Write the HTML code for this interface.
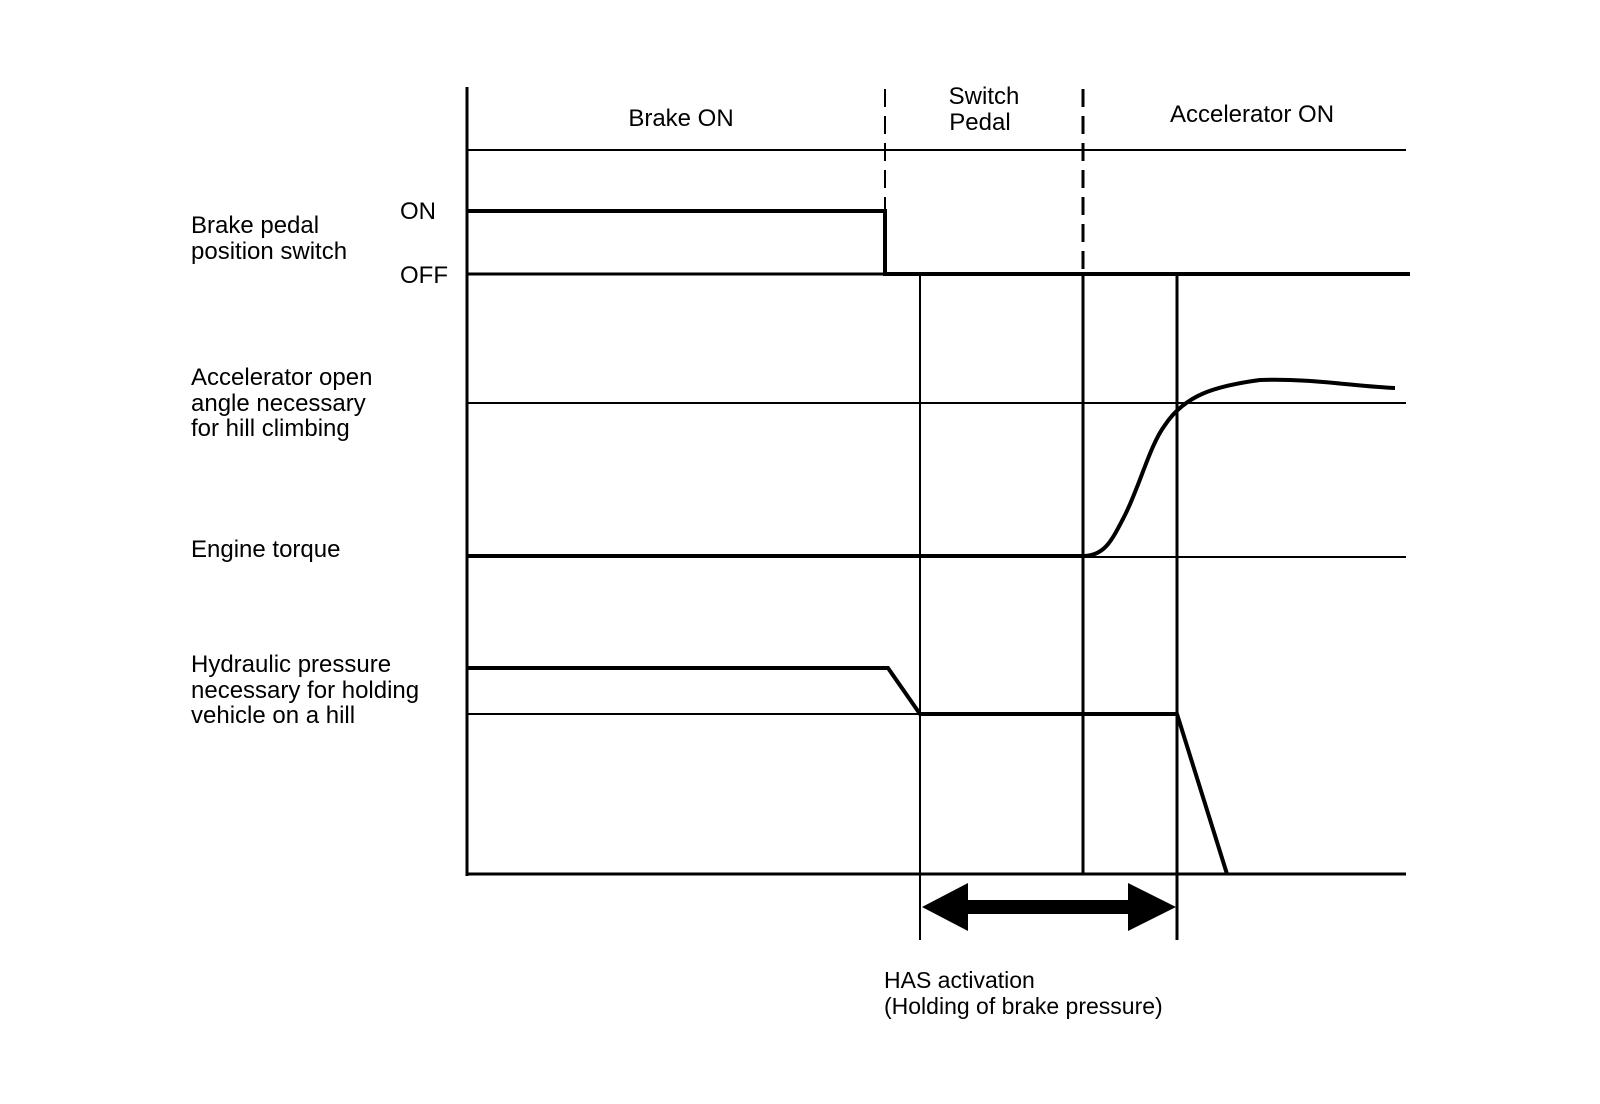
<!DOCTYPE html>
<html><head><meta charset="utf-8"><style>
html,body{margin:0;padding:0;background:#fff;}
svg{display:block;}
text{font-family:"Liberation Sans",Arial,sans-serif;fill:#000;}
</style></head><body>
<svg width="1600" height="1104" viewBox="0 0 1600 1104" xmlns="http://www.w3.org/2000/svg">
<g stroke="#000" fill="none">
<!-- axis -->
<line x1="467" y1="87" x2="467" y2="876" stroke-width="3"/>
<line x1="467" y1="150" x2="1406" y2="150" stroke-width="2"/>
<!-- dashed separators -->
<line x1="885" y1="89" x2="885" y2="274" stroke-width="2" stroke-dasharray="18,9"/>
<line x1="1083" y1="89" x2="1083" y2="274" stroke-width="3" stroke-dasharray="18,9"/>
<!-- brake switch -->
<polyline points="467,211 885,211 885,274 1410,274" stroke-width="4"/>
<line x1="467" y1="274" x2="885" y2="274" stroke-width="3"/>
<!-- verticals -->
<line x1="920" y1="274" x2="920" y2="940" stroke-width="2"/>
<line x1="1083" y1="274" x2="1083" y2="875" stroke-width="3"/>
<line x1="1177" y1="274" x2="1177" y2="940" stroke-width="3"/>
<!-- accel line -->
<line x1="467" y1="403" x2="1406" y2="403" stroke-width="2"/>
<!-- engine torque -->
<line x1="467" y1="557" x2="1406" y2="557" stroke-width="2"/>
<line x1="467" y1="556" x2="1085" y2="556" stroke-width="4"/>
<path d="M1083,556 C1105,556 1112,540 1125,515 C1140,485 1150,445 1165,425 C1185,395 1215,386 1260,380 C1310,378 1360,387 1395,388" stroke-width="4"/>
<!-- hydraulic -->
<line x1="467" y1="714" x2="920" y2="714" stroke-width="2"/>
<polyline points="467,668 888,668 920,714 1177,714 1227,874" stroke-width="4"/>
<!-- bottom -->
<line x1="467" y1="874" x2="1406" y2="874" stroke-width="3"/>
</g>
<!-- double arrow -->
<rect x="966" y="900" width="164" height="14" fill="#000"/>
<polygon points="922,907 968,883 968,931" fill="#000"/>
<polygon points="1176,907 1128,883 1128,931" fill="#000"/>
<g font-size="24">
<text x="681" y="126" text-anchor="middle">Brake ON</text>
<text x="984" y="104" text-anchor="middle">Switch</text>
<text x="980" y="130" text-anchor="middle">Pedal</text>
<text x="1252" y="122" text-anchor="middle">Accelerator ON</text>
<text x="400" y="219">ON</text>
<text x="400" y="283">OFF</text>
<text x="191" y="233">Brake pedal</text>
<text x="191" y="259">position switch</text>
<text x="191" y="385">Accelerator open</text>
<text x="191" y="411">angle necessary</text>
<text x="191" y="436">for hill climbing</text>
<text x="191" y="557">Engine torque</text>
<text x="191" y="672">Hydraulic pressure</text>
<text x="191" y="698">necessary for holding</text>
<text x="191" y="723">vehicle on a hill</text>
</g>
<g font-size="23">
<text x="884" y="988">HAS activation</text>
<text x="884" y="1014">(Holding of brake pressure)</text>
</g>
</svg>
</body></html>
